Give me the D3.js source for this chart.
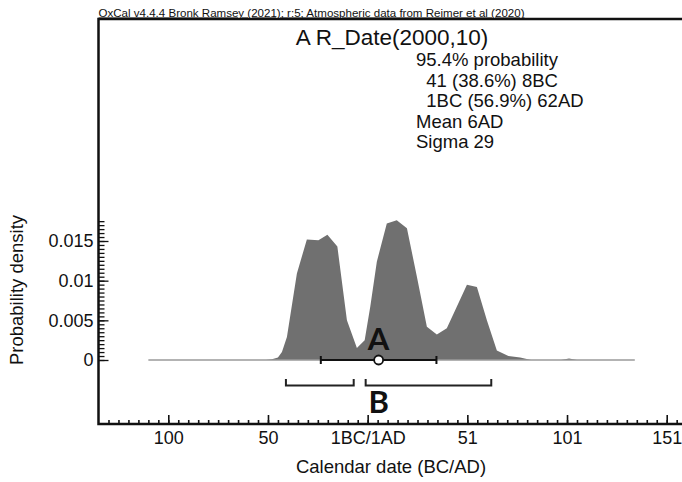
<!DOCTYPE html>
<html><head><meta charset="utf-8">
<script src="https://cdn.jsdelivr.net/npm/d3@7"></script>
<style>
html,body{margin:0;padding:0;background:#fff;}
svg{display:block;}
text{font-family:"Liberation Sans",Arial,sans-serif;fill:#111;}
</style></head>
<body>
<svg id="chart" width="682" height="482"></svg>
<script>
// ---- data ----
const headerText = "OxCal v4.4.4 Bronk Ramsey (2021); r:5; Atmospheric data from Reimer et al (2020)";
const titleText = "A R_Date(2000,10)";
const statsLines = ["95.4% probability", "  41 (38.6%) 8BC", "  1BC (56.9%) 62AD", "Mean 6AD", "Sigma 29"];
const xTickValues = [-99, -49, 1, 51, 101, 151];
const xTickLabels = ["100", "50", "1BC/1AD", "51", "101", "151"];
const yTickValues = [0, 0.005, 0.01, 0.015];
const yTickLabels = ["0", "0.005", "0.01", "0.015"];
// probability density (year on continuous scale: 1 = 1AD, 0 = 1BC, -49 = 50BC)
const years   = [-109, -50, -47, -44, -42, -39.5, -34.5, -29.5, -23.7, -19.2, -14.2, -9.4, -4.4, -0.5, 2.3, 5.6, 10.6, 15.6, 20.7, 25.7, 30.7, 35.7, 40.7, 45.7, 50.8, 55.8, 60.8, 65.8, 71.6, 77.5, 83, 98, 102, 106, 135];
const density = [0, 0, 0.0001, 0.0003, 0.0010, 0.0029, 0.0109, 0.0152, 0.0151, 0.0158, 0.0143, 0.0050, 0.0015, 0.0025, 0.0067, 0.0124, 0.0172, 0.0176, 0.0166, 0.0105, 0.0042, 0.0032, 0.0040, 0.0067, 0.0095, 0.0092, 0.0050, 0.0012, 0.0005, 0.0003, 0, 0, 0.0002, 0, 0];
const meanYear = 6.5;
const sigma = 29;
const rangeStarts = [-40, 0];
const rangeEnds = [-6, 63];

// ---- layout ----
const svg = d3.select("#chart");
const fLeft = 98.5, fTop = 19, fBottom = 424, fRight = 700;
const x = d3.scaleLinear().domain([-99, 151]).range([168.3, 666.7]);
const y = d3.scaleLinear().domain([0, 0.015]).range([360, 241]);

// header
const hdr = svg.append("text").attr("x", fLeft).attr("y", 16.5)
  .style("font-size", "10.5px").style("text-decoration", "underline")
  .text(headerText);
hdr.attr("textLength", 426).attr("lengthAdjust", "spacingAndGlyphs");

// density area
const pts = years.map((t, i) => [t, density[i]]);
svg.append("path").datum(pts)
  .attr("d", d3.area().x(d => x(d[0])).y0(y(0)).y1(d => y(d[1])))
  .attr("fill", "#707070");
svg.append("line").attr("x1", x(years[0])).attr("x2", x(years[years.length - 1]))
  .attr("y1", y(0)).attr("y2", y(0)).attr("stroke", "#9a9a9a").attr("stroke-width", 1.5);

// frame
svg.append("path").attr("d", `M${fRight},${fTop}H${fLeft}V${fBottom}H${fRight}`)
  .attr("fill", "none").attr("stroke", "#111").attr("stroke-width", 2.5);

// x axis
const xMinor = d3.range(-129, 200, 5).filter(t => x(t) > fLeft + 3);
const gxm = svg.append("g").attr("transform", `translate(0,${fBottom})`)
  .call(d3.axisBottom(x).tickValues(xMinor).tickSizeInner(-4).tickSizeOuter(0).tickFormat(""));
const gx = svg.append("g").attr("transform", `translate(0,${fBottom})`)
  .call(d3.axisBottom(x).tickValues(xTickValues).tickSizeInner(-9).tickSizeOuter(0).tickPadding(5)
    .tickFormat((d, i) => xTickLabels[i]));
[gxm, gx].forEach(g => { g.select(".domain").remove(); g.selectAll("line").attr("stroke", "#111").attr("stroke-width", 1.6); });
gx.selectAll("text").style("font-size", "18px").attr("fill", "#111").attr("dy", "0.82em").style("font-family", "'Liberation Sans',Arial,sans-serif");

// y axis
const yMinor = d3.range(0, 0.01751, 0.0005);
const gym = svg.append("g").attr("transform", `translate(${fLeft},0)`)
  .call(d3.axisLeft(y).tickValues(yMinor).tickSizeInner(-6).tickSizeOuter(0).tickFormat(""));
const gy = svg.append("g").attr("transform", `translate(${fLeft},0)`)
  .call(d3.axisLeft(y).tickValues(yTickValues).tickSizeInner(-10).tickSizeOuter(0).tickPadding(5)
    .tickFormat((d, i) => yTickLabels[i]));
[gym, gy].forEach(g => { g.select(".domain").remove(); g.selectAll("line").attr("stroke", "#111").attr("stroke-width", 1.3); });
gy.selectAll("text").style("font-size", "18px").attr("fill", "#111").style("font-family", "'Liberation Sans',Arial,sans-serif");

// axis titles
svg.append("text").attr("x", 391).attr("y", 473).attr("text-anchor", "middle")
  .style("font-size", "18.5px").text("Calendar date (BC/AD)");
svg.append("text").attr("transform", "translate(23,290) rotate(-90)").attr("text-anchor", "middle")
  .style("font-size", "18.5px").text("Probability density");

// title and stats
svg.append("text").attr("x", 392).attr("y", 45).attr("text-anchor", "middle")
  .style("font-size", "22.5px").text(titleText);
const statX = 416, statY0 = 66, statDy = 20.6;
statsLines.forEach((s, i) => {
  svg.append("text").attr("x", statX).attr("y", statY0 + i * statDy)
    .style("font-size", "18.5px").style("white-space", "pre").attr("xml:space", "preserve").text(s);
});

// mean +- sigma bar
const by = y(0);
svg.append("line").attr("x1", x(meanYear - sigma)).attr("x2", x(meanYear + sigma))
  .attr("y1", by).attr("y2", by).attr("stroke", "#111").attr("stroke-width", 2);
[meanYear - sigma, meanYear + sigma].forEach(t => {
  svg.append("line").attr("x1", x(t)).attr("x2", x(t)).attr("y1", by - 4).attr("y2", by + 4)
    .attr("stroke", "#111").attr("stroke-width", 2);
});
svg.append("circle").attr("cx", x(meanYear)).attr("cy", by).attr("r", 4.5)
  .attr("fill", "#fff").attr("stroke", "#111").attr("stroke-width", 1.8);

// range brackets
rangeStarts.forEach((s, i) => {
  const x0 = x(s), x1 = x(rangeEnds[i]);
  svg.append("path").attr("d", `M${x0},379V385.5H${x1}V379`)
    .attr("fill", "none").attr("stroke", "#222").attr("stroke-width", 2);
});

// A / B labels
svg.append("text").attr("x", x(meanYear)).attr("y", 350).attr("text-anchor", "middle")
  .style("font-family", "Lato, 'Open Sans', sans-serif").style("font-weight", "bold").style("font-size", "31px")
  .text("A");
svg.append("text").attr("x", x(meanYear)).attr("y", 413).attr("text-anchor", "middle")
  .style("font-family", "Lato, 'Open Sans', sans-serif").style("font-weight", "bold").style("font-size", "31px")
  .text("B");
</script>
</body></html>
